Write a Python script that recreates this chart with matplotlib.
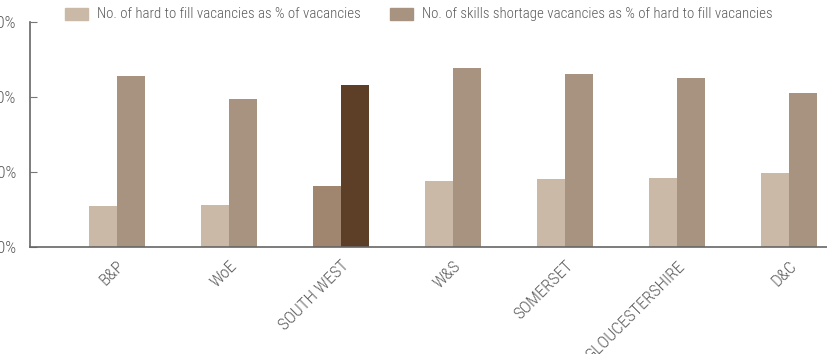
import matplotlib.pyplot as plt
from matplotlib.patches import Rectangle
from matplotlib import font_manager
import numpy as np

# pick a condensed face if one is around
fam = 'Liberation Sans'
for f in ['Roboto Condensed', 'Liberation Sans Narrow', 'Open Sans Condensed']:
    try:
        font_manager.findfont(f, fallback_to_default=False)
        fam = f
        break
    except ValueError:
        pass
plt.rcParams['font.family'] = [fam, 'DejaVu Sans']
plt.rcParams['font.weight'] = 'light'

regions = ['B&P', 'WoE', 'SOUTH WEST', 'W&S', 'SOMERSET', 'GLOUCESTERSHIRE', 'D&C']
hard_to_fill = [10.9, 11.2, 16.3, 17.6, 18.1, 18.4, 19.7]
skills_shortage = [45.6, 39.5, 43.2, 47.7, 46.1, 45.1, 41.1]
yticks = [0, 20, 40, 60]
labels = ['No. of hard to fill vacancies as % of vacancies',
          'No. of skills shortage vacancies as % of hard to fill vacancies']

light = '#cbb9a8'
dark = '#a89381'
light_hi = '#a0856f'
dark_hi = '#5c3f26'
highlight = 'SOUTH WEST'
grey = '#5a5a5a'

c1 = [light_hi if r == highlight else light for r in regions]
c2 = [dark_hi if r == highlight else dark for r in regions]

fig = plt.figure(figsize=(8.28, 3.54), dpi=100)

# size the font so the first legend label is as wide as in the picture
r = fig.canvas.get_renderer()
t = fig.text(0, 0, labels[0], fontsize=10)
fs = 10 * 263 / t.get_window_extent(r).width
t.remove()
fs_tick = fs * 1.15

ax = fig.add_axes([30/828, 1-247/354, 1-30/828, (247-22)/354])

x = np.arange(len(regions))
w = 0.25
ax.bar(x - w/2, hard_to_fill, w, color=c1)
ax.bar(x + w/2, skills_shortage, w, color=c2)

ax.set_xlim(-0.777, 6.348)
ax.set_ylim(0, 60)
ax.set_yticks(yticks)
ax.set_yticklabels([f'{v}%' for v in yticks], fontsize=fs_tick, color=grey)
ax.set_xticks(x)
ax.set_xticklabels(regions, rotation=45, ha='right', va='top', rotation_mode='anchor',
                   fontsize=fs_tick, color=grey)
ax.tick_params(axis='x', length=0, pad=8)
ax.tick_params(axis='y', direction='in', length=5, color='#777777', pad=10)

for s in ['top', 'right']:
    ax.spines[s].set_visible(False)
for s in ['left', 'bottom']:
    ax.spines[s].set_color('#666666')
    ax.spines[s].set_linewidth(1.2)

# legend along the top
for px, tx, col, lab in [(65, 97, light, labels[0]), (390, 422, dark, labels[1])]:
    fig.add_artist(Rectangle((px/828, 1-20/354), 23/828, 12/354,
                             transform=fig.transFigure, color=col))
    fig.text(tx/828, 1-14/354, lab, fontsize=fs, color=grey, va='center', ha='left')

fig.savefig('out.png', dpi=100)
